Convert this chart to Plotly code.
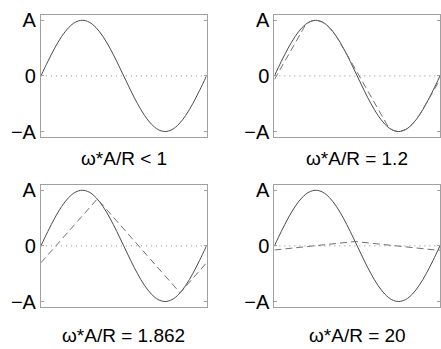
import plotly.graph_objects as go

# phase in degrees (one period) and input sine (normalised to A)
phase_deg = [0, 15, 30, 45, 60, 75, 90, 105, 120, 135, 150, 165, 180,
             195, 210, 225, 240, 255, 270, 285, 300, 315, 330, 345, 360]
input_sine = [0, 0.2588, 0.5, 0.7071, 0.8660, 0.9659, 1, 0.9659, 0.8660, 0.7071, 0.5, 0.2588, 0,
              -0.2588, -0.5, -0.7071, -0.8660, -0.9659, -1, -0.9659, -0.8660, -0.7071, -0.5, -0.2588, 0]

# slew-limited outputs (dashed)
out12_x = [0, 25, 50, 68.6, 80, 90, 105, 120, 135, 146.4, 170, 200, 230, 248.6,
           260, 270, 285, 300, 315, 326.4, 345, 360]
out12_y = [-0.066, 0.298, 0.661, 0.932, 0.985, 1, 0.966, 0.866, 0.707, 0.553, 0.210, -0.226, -0.663, -0.932,
           -0.985, -1, -0.966, -0.866, -0.707, -0.553, -0.282, -0.064]
out1862_x = [0, 122.5, 302.5, 360]
out1862_y = [-0.304, 0.844, -0.844, -0.304]
out20_x = [0, 175.5, 355.5, 360]
out20_y = [-0.074, 0.0785, -0.0785, -0.074]

titles = ["ω*A/R < 1", "ω*A/R = 1.2", "ω*A/R = 1.862", "ω*A/R = 20"]
dashed = [None, (out12_x, out12_y), (out1862_x, out1862_y), (out20_x, out20_y)]
tick_vals = [-1, 0, 1]
tick_text = ["−A", "0", "A"]

W, H = 441, 349
# pixel boxes (left, right, top, bottom) and title centre y
boxes = [(41, 207, 10, 136, 158), (275, 441, 10, 136, 158),
         (41, 207, 185, 311, 340), (275, 441, 185, 311, 340)]

fig = go.Figure()
layout = dict(width=W, height=H, margin=dict(l=0, r=0, t=0, b=0),
              paper_bgcolor="white", plot_bgcolor="white", showlegend=False,
              font=dict(family="Liberation Sans, Arial, sans-serif", color="#000"))
annotations = []
for i, (l, r, t, b, ty) in enumerate(boxes):
    n = "" if i == 0 else str(i + 1)
    xa, ya = "x" + n, "y" + n
    layout["xaxis" + n] = dict(domain=[l / W, r / W], range=[0, 360], showline=True, mirror=True,
                               linecolor="#a0a0a0", linewidth=1, showgrid=False, zeroline=False,
                               showticklabels=False, ticks="", anchor=ya)
    layout["yaxis" + n] = dict(domain=[1 - b / H, 1 - t / H], range=[-1.1, 1.1], showline=True,
                               mirror="ticks", linecolor="#a0a0a0", linewidth=1, showgrid=False,
                               zeroline=False, tickvals=tick_vals, ticktext=tick_text,
                               ticks="inside", ticklen=3, tickcolor="#a0a0a0",
                               tickfont=dict(size=20, color="#000"), anchor=xa)
    fig.add_trace(go.Scatter(x=[0, 360], y=[0, 0], mode="lines", xaxis=xa, yaxis=ya,
                             line=dict(color="#8a8a8a", width=1, dash="1px,4px")))
    fig.add_trace(go.Scatter(x=phase_deg, y=input_sine, mode="lines", xaxis=xa, yaxis=ya,
                             line=dict(color="#4a4a4a", width=1, shape="spline")))
    if dashed[i] is not None:
        dx, dy = dashed[i]
        fig.add_trace(go.Scatter(x=dx, y=dy, mode="lines", xaxis=xa, yaxis=ya,
                                 line=dict(color="#707070", width=1, dash="7px,4px")))
    annotations.append(dict(text=titles[i], x=(l + r) / 2 / W, y=1 - ty / H,
                            xref="paper", yref="paper", showarrow=False,
                            xanchor="center", yanchor="middle",
                            font=dict(size=19, color="#000")))
layout["annotations"] = annotations
fig.update_layout(**layout)
fig.write_html("out.html")
